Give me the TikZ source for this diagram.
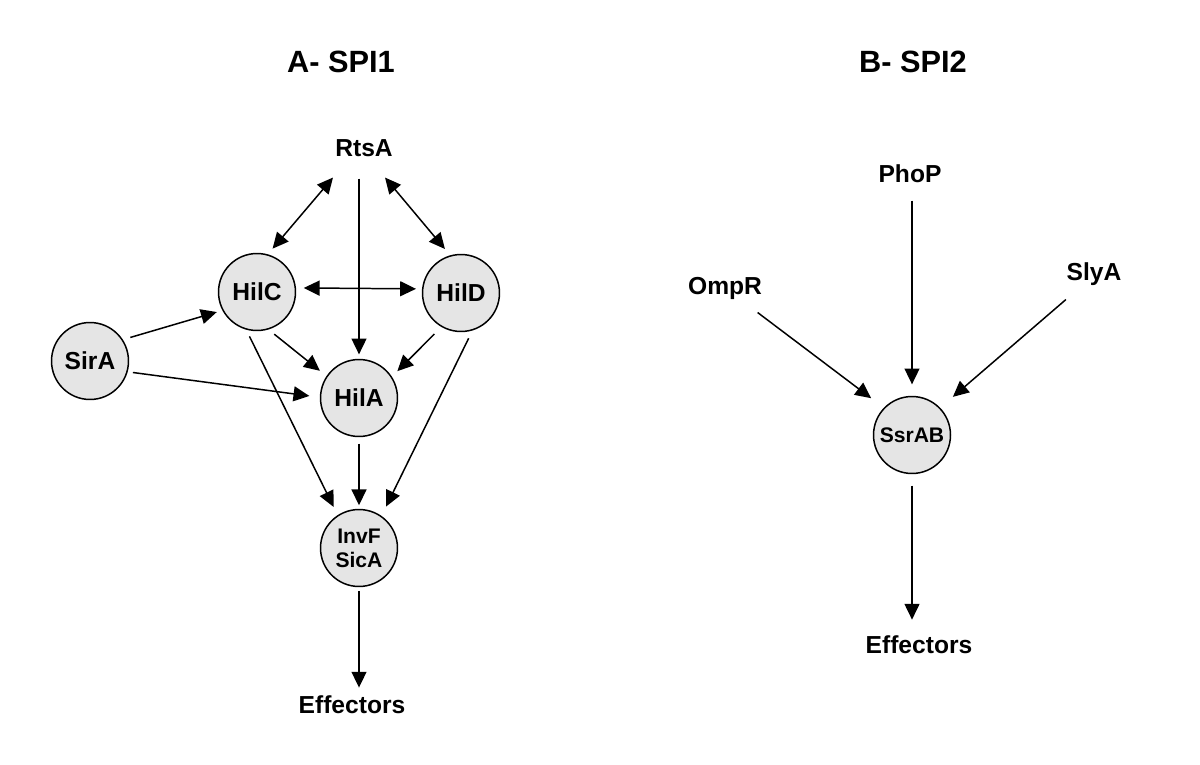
\documentclass[tikz,border=0pt]{standalone}
\usepackage{fontspec}
\setmainfont{Liberation Sans}
\usetikzlibrary{arrows.meta}

\begin{document}
\begin{tikzpicture}[x=0.02cm,y=-0.02cm,line width=0.85pt,
  >={Triangle[length=9pt,width=8.5pt]},
  lbl/.style={font=\bfseries\fontsize{14}{16}\selectfont,inner sep=0pt,text height=10pt,text depth=0pt},
  ttl/.style={font=\bfseries\fontsize{17.5}{20}\selectfont,inner sep=0pt,text height=12.5pt,text depth=0pt},
  reg/.style={circle,draw,fill=gray!20,minimum size=1.54cm,inner sep=0pt,font=\bfseries\fontsize{14}{16}\selectfont},
  small/.style={font=\bfseries\fontsize{12}{13.6}\selectfont,align=center}]
  \useasboundingbox (0,0) rectangle (1200,764);
  \node[ttl] (spia) at (341,62) {A- SPI1};
  \node[ttl] (spib) at (913,62) {B- SPI2};
  % SPI1
  \node[lbl] (rtsa) at (364,148) {RtsA};
  \node[reg] (hilc) at (257,292) {HilC};
  \node[reg] (hild) at (461,293) {HilD};
  \node[reg] (sira) at (90,361) {SirA};
  \node[reg] (hila) at (359,398) {HilA};
  \node[reg,small] (invf) at (359,548) {InvF\\SicA};
  \node[lbl] (effa) at (352,705) {Effectors};
  \draw[<->,shorten >=4.2pt] ([shift={(-31,20)}]rtsa.south) -- (hilc.74);
  \draw[<->,shorten >=4.7pt] ([shift={(21,20)}]rtsa.south) -- (hild.106);
  \draw[<->,shorten <=4.4pt,shorten >=3.4pt] (hilc.6) -- (hild.174);
  \draw[->,shorten <=12pt,shorten >=2.5pt] (rtsa.south -| hila.north) -- (hila.north);
  \draw[->,shorten <=4.4pt,shorten >=3.3pt] (sira.33) -- (hilc.208);
  \draw[->,shorten <=3pt,shorten >=6pt] (sira.-16) -- (hila.179);
  \draw[->,shorten <=4.2pt,shorten >=4.8pt] (hilc.-73) -- (hila.146);
  \draw[->,shorten <=5.6pt,shorten >=4.4pt] (hild.-120) -- (hila.33);
  \draw[->,shorten <=4.2pt,shorten >=5.2pt] (hilc.-106) -- (invf.123);
  \draw[->,shorten <=4.9pt,shorten >=5.9pt] (hild.-73) -- (invf.55);
  \draw[->,shorten <=3.7pt,shorten >=2pt] (hila.south) -- (invf.north);
  \draw[->,shorten <=2pt,shorten >=4.5pt] (invf.south) -- (invf.south |- effa.north);
  % SPI2
  \node[lbl] (phop) at (910,174) {PhoP};
  \node[lbl] (ompr) at (725,286) {OmpR};
  \node[lbl] (slya) at (1094,272) {SlyA};
  \node[reg,small] (ssrab) at (912,435) {SsrAB};
  \node[lbl] (effb) at (919,645) {Effectors};
  \draw[->,shorten <=9.7pt,shorten >=6.5pt] (phop.south -| ssrab.north) -- (ssrab.north);
  \draw[->,shorten >=9pt] ([shift={(-5,17)}]ompr.south east) -- (ssrab.136);
  \draw[->,shorten >=9.5pt] ([shift={(0,18)}]slya.south west) -- (ssrab.44);
  \draw[->,shorten <=6.5pt,shorten >=9pt] (ssrab.south) -- (ssrab.south |- effb.north);
\end{tikzpicture}
\end{document}
